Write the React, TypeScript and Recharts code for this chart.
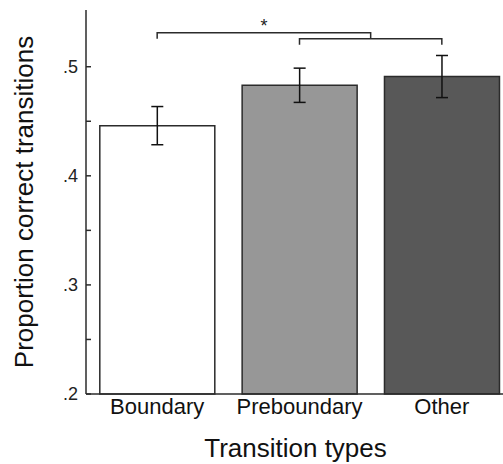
import { BarChart, Bar, XAxis, YAxis, Cell, ErrorBar, ReferenceLine, Label } from 'recharts';

const categories = ['Boundary', 'Preboundary', 'Other'];
const proportions = [0.446, 0.483, 0.491];
const stdErrors = [0.0175, 0.0157, 0.0193];
const barFills = ['#ffffff', '#979797', '#585858'];

const yTicks = [0.2, 0.25, 0.3, 0.35, 0.4, 0.45, 0.5];
const yTickLabels = ['.2', '', '.3', '', '.4', '', '.5'];

// significance brackets (y in data units)
const upperBracketY = 0.5312;
const lowerBracketY = 0.5257;

const data = categories.map((name, i) => ({ name, value: proportions[i], err: stdErrors[i] }));

const FONT = '"Liberation Sans", Arial, Helvetica, sans-serif';
const INK = '#2b2b2b';

function YTick(props: any) {
  const { x, y, index } = props;
  return (
    <g>
      <line x1={x} x2={x + 5} y1={y} y2={y} stroke={INK} strokeWidth={1.5} />
      <text x={x - 8} y={y} textAnchor="end" dominantBaseline="central" fontSize={18} fontFamily={FONT} fill="#222">
        {yTickLabels[index]}
      </text>
    </g>
  );
}

function LowerBracket(props: any) {
  const { x1, x2, y1 } = props;
  return <path d={`M${x1},${y1 + 6}V${y1}H${x2}V${y1 + 6}`} fill="none" stroke={INK} strokeWidth={1.5} />;
}

function UpperBracket(props: any) {
  const { x1, x2, y1 } = props;
  // right end lands between Preboundary and Other (middle of the lower bracket)
  const end = x1 + 0.75 * (x2 - x1);
  const mid = (x1 + end) / 2;
  return (
    <g>
      <path d={`M${x1},${y1 + 6}V${y1}H${end}V${y1 + 6}`} fill="none" stroke={INK} strokeWidth={1.5} />
      <text x={mid} y={y1 - 1} textAnchor="middle" fontSize={18} fontFamily={FONT} fill="#222">*</text>
    </g>
  );
}

export default function App() {
  return (
    <div style={{ position: 'absolute', left: 0, top: 0, width: 503, height: 464, overflow: 'hidden', background: '#fff' }}>
      <BarChart
        width={520}
        height={464}
        data={data}
        margin={{ top: 10, right: 7, bottom: 0, left: 0 }}
        barCategoryGap="9.7%"
      >
        <XAxis
          dataKey="name"
          height={70}
          axisLine={{ stroke: INK, strokeWidth: 1.5 }}
          tickLine={false}
          tickSize={0}
          tickMargin={4}
          tick={{ fontSize: 22, fontFamily: FONT, fill: '#111' }}
          interval={0}
        >
          <Label
            content={(p: any) => {
              const vb = p.viewBox;
              return (
                <text x={vb.x + vb.width / 2 - 4} y={vb.y + 63} textAnchor="middle" fontSize={26} fontFamily={FONT} fill="#111">
                  Transition types
                </text>
              );
            }}
          />
        </XAxis>
        <YAxis
          type="number"
          domain={[0.2, 0.552]}
          ticks={yTicks}
          interval={0}
          width={86}
          axisLine={{ stroke: INK, strokeWidth: 1.5 }}
          tickLine={false}
          tickSize={0}
          tickMargin={0}
          tick={<YTick />}
        >
          <Label
            content={(p: any) => {
              const vb = p.viewBox;
              const cx = vb.x + 24;
              const cy = vb.y + vb.height / 2;
              return (
                <text
                  x={cx}
                  y={cy}
                  transform={`rotate(-90, ${cx}, ${cy})`}
                  textAnchor="middle"
                  dominantBaseline="central"
                  fontSize={26}
                  fontFamily={FONT}
                  fill="#111"
                >
                  Proportion correct transitions
                </text>
              );
            }}
          />
        </YAxis>
        <Bar dataKey="value" isAnimationActive={false} stroke={INK} strokeWidth={1.5}>
          {data.map((d, i) => (
            <Cell key={d.name} fill={barFills[i]} />
          ))}
          <ErrorBar dataKey="err" width={6} stroke="#111" strokeWidth={1.5} />
        </Bar>
        <ReferenceLine
          segment={[{ x: 'Boundary', y: upperBracketY }, { x: 'Other', y: upperBracketY }]}
          shape={<UpperBracket />}
        />
        <ReferenceLine
          segment={[{ x: 'Preboundary', y: lowerBracketY }, { x: 'Other', y: lowerBracketY }]}
          shape={<LowerBracket />}
        />
      </BarChart>
    </div>
  );
}
